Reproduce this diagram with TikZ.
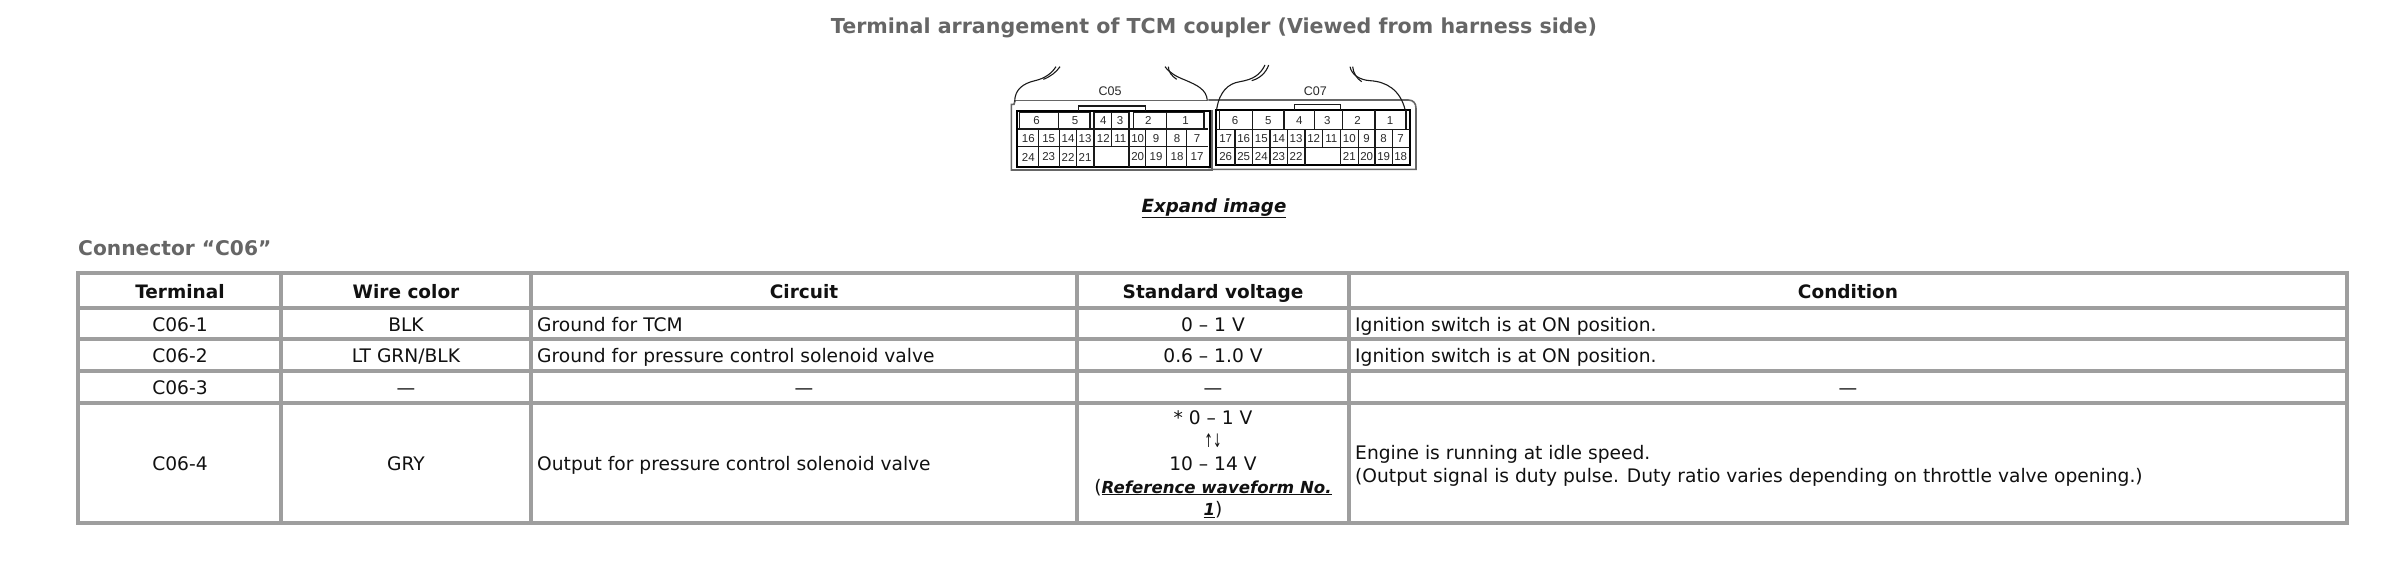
\documentclass[tikz,border=0pt]{standalone}
\usepackage{fontspec}
\setmainfont{DejaVu Sans}
\newfontfamily\conn{Liberation Sans}
\definecolor{grid}{HTML}{9E9E9E}
\definecolor{head}{HTML}{666666}
\definecolor{ink}{HTML}{111111}
\definecolor{pin}{HTML}{2A2A2A}
\definecolor{wire}{HTML}{1A1A1A}
\tikzset{
 celltext/.style={anchor=base,inner sep=0pt,text=ink,font=\fontsize{18.65}{22.8}\selectfont},
 lefttext/.style={celltext,anchor=base west},
 headtext/.style={celltext,font=\fontsize{18.5}{22}\selectfont\bfseries},
 greytitle/.style={inner sep=0pt,text=head,font=\fontsize{20.6}{24}\selectfont\bfseries,anchor=base},
 gridline/.style={draw=grid,line width=3.4pt},
 pinlabel/.style={inner sep=0pt,text=pin,font=\fontsize{11.5}{12}\selectfont\conn},
 body/.style={draw=black,line width=1.7pt},
 thin/.style={draw=wire,line width=1.1pt},
 shell/.style={draw=black!60,line width=1.6pt},
}
\newcommand{\reflink}[1]{\underline{\fontsize{16.6}{22.8}\selectfont\bfseries\itshape #1}}
\begin{document}
\begin{tikzpicture}[x=1pt,y=-1pt]
\useasboundingbox (0,0) rectangle (2400,574);
\fill[white] (0,0) rectangle (2400,574);
% titles
\node[greytitle] (title) at (1214,33) {Terminal arrangement of TCM coupler (Viewed from harness side)};
\node[celltext,font=\fontsize{18.2}{22}\selectfont\bfseries\itshape] (expand) at (1214,212) {\underline{Expand image}};
\node[greytitle,anchor=base west,font=\fontsize{20.2}{24}\selectfont\bfseries] (conn) at (78,255) {Connector “C06”};
% table
\draw[gridline] (78,273) rectangle (2347,523);
\foreach \yy in {308,339,371,403} \draw[gridline] (78,\yy) -- (2347,\yy);
\foreach \xx in {281,531,1077,1349} \draw[gridline] (\xx,273) -- (\xx,523);
% header
\node[headtext] (h1) at (180,298) {Terminal};
\node[headtext] (h2) at (406,298) {Wire color};
\node[headtext] (h3) at (804,298) {Circuit};
\node[headtext] (h4) at (1213,298) {Standard voltage};
\node[headtext] (h5) at (1848,298) {Condition};
% rows
\node[celltext] (a1) at (180,331) {C06-1};
\node[celltext] (a2) at (406,331) {BLK};
\node[lefttext] (a3) at (537,331) {Ground for TCM};
\node[celltext] (a4) at (1213,331) {0 – 1 V};
\node[lefttext] (a5) at (1355,331) {Ignition switch is at ON position.};
\node[celltext] (b1) at (180,362.5) {C06-2};
\node[celltext] (b2) at (406,362.5) {LT GRN/BLK};
\node[lefttext] (b3) at (537,362.5) {Ground for pressure control solenoid valve};
\node[celltext] (b4) at (1213,362.5) {0.6 – 1.0 V};
\node[lefttext] (b5) at (1355,362.5) {Ignition switch is at ON position.};
\node[celltext] (c1) at (180,394) {C06-3};
\node[celltext] (c2) at (406,394) {—};
\node[celltext] (c3) at (804,394) {—};
\node[celltext] (c4) at (1213,394) {—};
\node[celltext] (c5) at (1848,394) {—};
\node[celltext] (d1) at (180,470) {C06-4};
\node[celltext] (d2) at (406,470) {GRY};
\node[lefttext] (d3) at (537,470) {Output for pressure control solenoid valve};
\node[celltext,anchor=center,align=center] (d4) at (1213,464.5) {* 0 – 1 V\\\scalebox{.55}[1]{↑↓}\\10 – 14 V\\(\reflink{Reference waveform No.}\\\reflink{1})};
\node[celltext,anchor=west,align=left] (d5) at (1355,465.5) {Engine is running at idle speed.\\(Output signal is duty pulse. Duty ratio varies depending on throttle valve opening.)};
% left coupler
\begin{scope}[xshift=980pt,yshift=-50pt,x=.33333pt,y=-.33333pt]
 \draw[shell] (105,152) -- (682,152);
 \draw[shell] (105,152) -- (102,163) -- (94,163) -- (94,360) -- (696,360) -- (696,180);
 \draw[body] (110,182) rectangle (690,350);
 \draw[thin] (295,182) -- (295,168) -- (497,168) -- (497,182);
 \draw[thin] (118,187) -- (118,237) (235,187) -- (235,237) (330,187) -- (330,237);
 \draw[thin] (118,187) -- (330,187);
 \draw[thin] (342,187) rectangle (447,237) (395,187) -- (395,237);
 \draw[thin] (460,187) rectangle (672,237) (560,187) -- (560,237);
 \draw[thin] (113,237) -- (685,237) (113,290) -- (685,290);
 \foreach \xx in {175,238,290,342,395,447,497,560,620} \draw[thin] (\xx,237) -- (\xx,290);
 \foreach \xx in {175,238,290,342,447,497,560,620} \draw[thin] (\xx,290) -- (\xx,350);
 \fill[white] (344,292) rectangle (445,348);
 \foreach \t/\xx in {6/170,5/285,4/370,3/420,2/505,1/617}
  \node[pinlabel] (lt\t) at (\xx,212) {\t};
 \foreach \t/\xx in {16/145,15/206,14/264,13/315,12/370,11/421,10/473,9/528,8/591,7/651}
  \node[pinlabel] (lm\t) at (\xx,266) {\t};
 \foreach \t/\xx in {24/145,23/206,22/264,21/315,20/473,19/528,18/591,17/651}
  \node[pinlabel] (lb\t) at (\xx,321) {\t};
 \node[pinlabel,font=\fontsize{12.5}{13}\selectfont\conn] (lname) at (390,125) {C05};
 \draw[thin] (104,155) .. controls (104,118) and (130,100) .. (165,92) .. controls (195,85) and (215,70) .. (228,50);
 \draw[thin] (190,88) .. controls (212,80) and (230,65) .. (240,50);
 \draw[thin] (682,152) .. controls (680,118) and (650,105) .. (615,90) .. controls (590,80) and (570,70) .. (555,50);
 \draw[thin] (590,88) .. controls (575,78) and (565,65) .. (565,50);
\end{scope}
% right coupler
\begin{scope}[xshift=1200pt,yshift=-50pt,x=.33333pt,y=-.33333pt]
 \draw[shell] (25,150) -- (625,150) .. controls (640,150) and (648,160) .. (648,175) -- (648,358) -- (25,358);
 \draw[body] (48,180) rectangle (630,345);
 \draw[thin] (283,180) -- (283,163) -- (422,163) -- (422,180);
 \draw[thin] (58,180) -- (58,238) (618,180) -- (618,238);
 \foreach \xx in {157,252,344,427,525} \draw[thin] (\xx,180) -- (\xx,238);
 \draw[thin] (48,238) -- (630,238) (48,292) -- (630,292);
 \foreach \xx in {105,158,210,262,315,367,422,475,525,578} \draw[thin] (\xx,238) -- (\xx,292);
 \foreach \xx in {105,158,210,262,315,422,475,525,578} \draw[thin] (\xx,292) -- (\xx,345);
 \foreach \t/\xx in {6/105,5/205,4/298,3/382,2/473,1/570}
  \node[pinlabel] (rt\t) at (\xx,211) {\t};
 \foreach \t/\xx in {17/77,16/131,15/184,14/236,13/288,12/341,11/394,10/448,9/500,8/551,7/602}
  \node[pinlabel] (rm\t) at (\xx,266) {\t};
 \foreach \t/\xx in {26/77,25/131,24/184,23/236,22/288,21/448,20/500,19/551,18/602}
  \node[pinlabel] (rb\t) at (\xx,319) {\t};
 \node[pinlabel,font=\fontsize{12.5}{13}\selectfont\conn] (rname) at (346,123) {C07};
 \draw[thin] (50,178) .. controls (58,125) and (85,100) .. (120,95) .. controls (160,88) and (180,75) .. (195,45);
 \draw[thin] (155,92) .. controls (180,85) and (198,68) .. (206,45);
 \draw[thin] (615,178) .. controls (600,120) and (560,95) .. (510,92) .. controls (480,90) and (455,75) .. (450,50);
 \draw[thin] (485,95) .. controls (470,85) and (460,70) .. (458,50);
\end{scope}
\end{tikzpicture}
\end{document}
